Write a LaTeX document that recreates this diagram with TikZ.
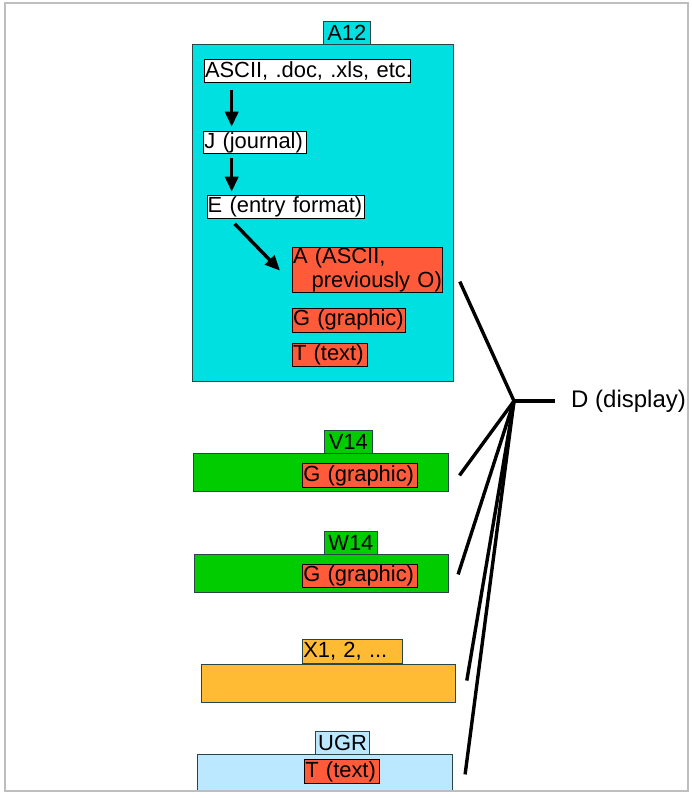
\documentclass[tikz,border=0pt]{standalone}
\usepackage{fontspec}
\setmainfont{Liberation Sans}
\usetikzlibrary{arrows.meta}
\definecolor{cyanA}{RGB}{0,224,224}
\definecolor{redB}{RGB}{255,90,58}
\definecolor{greenB}{RGB}{0,204,0}
\definecolor{orangeB}{RGB}{255,187,51}
\definecolor{blueB}{RGB}{187,232,255}
\definecolor{frameG}{RGB}{190,190,190}
\definecolor{edgeD}{RGB}{40,70,70}
\begin{document}
\begin{tikzpicture}[x=1pt,y=-1pt,
  every node/.style={font=\fontsize{21.9}{23.5}\selectfont},
  area/.style={draw=edgeD, line width=0.8pt, anchor=north west, inner sep=0pt},
  tbox/.style={draw=black, line width=0.8pt, anchor=north west, inner xsep=0.6pt, inner ysep=0pt, align=left},
  lbl/.style={draw=edgeD, line width=0.8pt, anchor=north west, inner sep=0pt},
  arr/.style={line width=3.4pt, -{Triangle[length=15pt,width=13pt]}},
  wire/.style={line width=3.4pt},
]
\useasboundingbox (0,0) rectangle (691,798);
\fill[white] (0,0) rectangle (691,798);

% areas
\node[area, fill=cyanA, minimum width=260.7pt, minimum height=336.7pt] (a12) at (192,44) {};
\node[area, fill=greenB, minimum width=254.4pt, minimum height=37.4pt] (v14bar) at (193.3,453.3) {};
\node[area, fill=greenB, minimum width=254.3pt, minimum height=37.4pt] (w14bar) at (194,554.3) {};
\node[area, fill=orangeB, minimum width=254.3pt, minimum height=38.3pt] (xbar) at (200.7,664) {};
\node[area, fill=blueB, minimum width=255pt, minimum height=37pt] (ugrbar) at (197.3,754) {};

% labels
\node[lbl, fill=cyanA, minimum width=47.3pt, minimum height=23pt] (a12l) at (322.7,21) {A12};
\node[lbl, fill=greenB, minimum width=47.7pt, minimum height=23.3pt] (v14l) at (324,430) {V14};
\node[lbl, fill=greenB, minimum width=52.4pt, minimum height=23.3pt] (w14l) at (324.3,531) {W14};
\node[tbox, draw=edgeD, fill=orangeB, text width=98.2pt, minimum height=23.4pt] (xl) at (302.3,639.3) {X1, 2, ...};
\node[lbl, fill=blueB, minimum width=54.3pt, minimum height=23.3pt] (ugrl) at (315,730.7) {UGR};

% text boxes
\node[tbox, fill=white, text width=204.8pt, minimum height=23.3pt] (ascii) at (204,58.7) {\mbox{ASCII, .doc, .xls, etc.}};
\node[tbox, fill=white, text width=101.5pt, minimum height=22.6pt] (j) at (203.3,130.7) {\mbox{J (journal)}};
\node[tbox, fill=white, text width=156.1pt, minimum height=23pt] (e) at (206.7,195) {\mbox{E (entry format)}};
\node[tbox, fill=redB, text width=148.8pt, minimum height=45pt] (a) at (292,246.7) {\mbox{A (ASCII,}\\\mbox{\hspace*{0.85em}previously O)}};
\node[tbox, fill=redB, text width=111.8pt, minimum height=23.7pt] (g1) at (292,308) {\mbox{G (graphic)}};
\node[tbox, fill=redB, text width=73.8pt, minimum height=23pt] (t1) at (292,342.7) {\mbox{T (text)}};
\node[tbox, fill=redB, text width=113.2pt, minimum height=23.4pt] (gv) at (302.3,463.3) {\mbox{G (graphic)}};
\node[tbox, fill=redB, text width=113.2pt, minimum height=23.4pt] (gw) at (302.3,564) {\mbox{G (graphic)}};
\node[tbox, fill=redB, text width=73.8pt, minimum height=24pt] (tu) at (304.3,759.3) {\mbox{T (text)}};

% arrows
\draw[arr] ([xshift=27.7pt,yshift=-7pt]ascii.south west) -- ([xshift=28.4pt,yshift=4pt]j.north west);
\draw[arr] ([xshift=28.4pt,yshift=-4pt]j.south west) -- ([xshift=25pt,yshift=3.3pt]e.north west);
\draw[arr] ([xshift=28pt,yshift=-5pt]e.south west) -- ([xshift=-12pt,yshift=-1pt]a.west);

% display
\coordinate (hub) at (514,401);
\node[anchor=west, inner sep=0pt, font=\fontsize{24}{26}\selectfont] (dtext) at (571,401) {D (display)};
\draw[wire] (hub) -- ([xshift=-16pt]dtext.west);
\draw[wire] ([xshift=17pt,yshift=-12pt]a.east) -- (hub);
\draw[wire] ([xshift=11pt,yshift=-3pt]v14bar.east) -- (hub);
\draw[wire] ([xshift=9pt,yshift=-1pt]w14bar.east) -- (hub);
\draw[wire] ([xshift=11pt,yshift=3pt]xbar.east) -- (hub);
\draw[wire] ([xshift=12pt,yshift=-1.5pt]ugrbar.east) -- (hub);

% frame
\draw[frameG, line width=1.2pt] (5,3) rectangle (688,791);
\end{tikzpicture}
\end{document}
